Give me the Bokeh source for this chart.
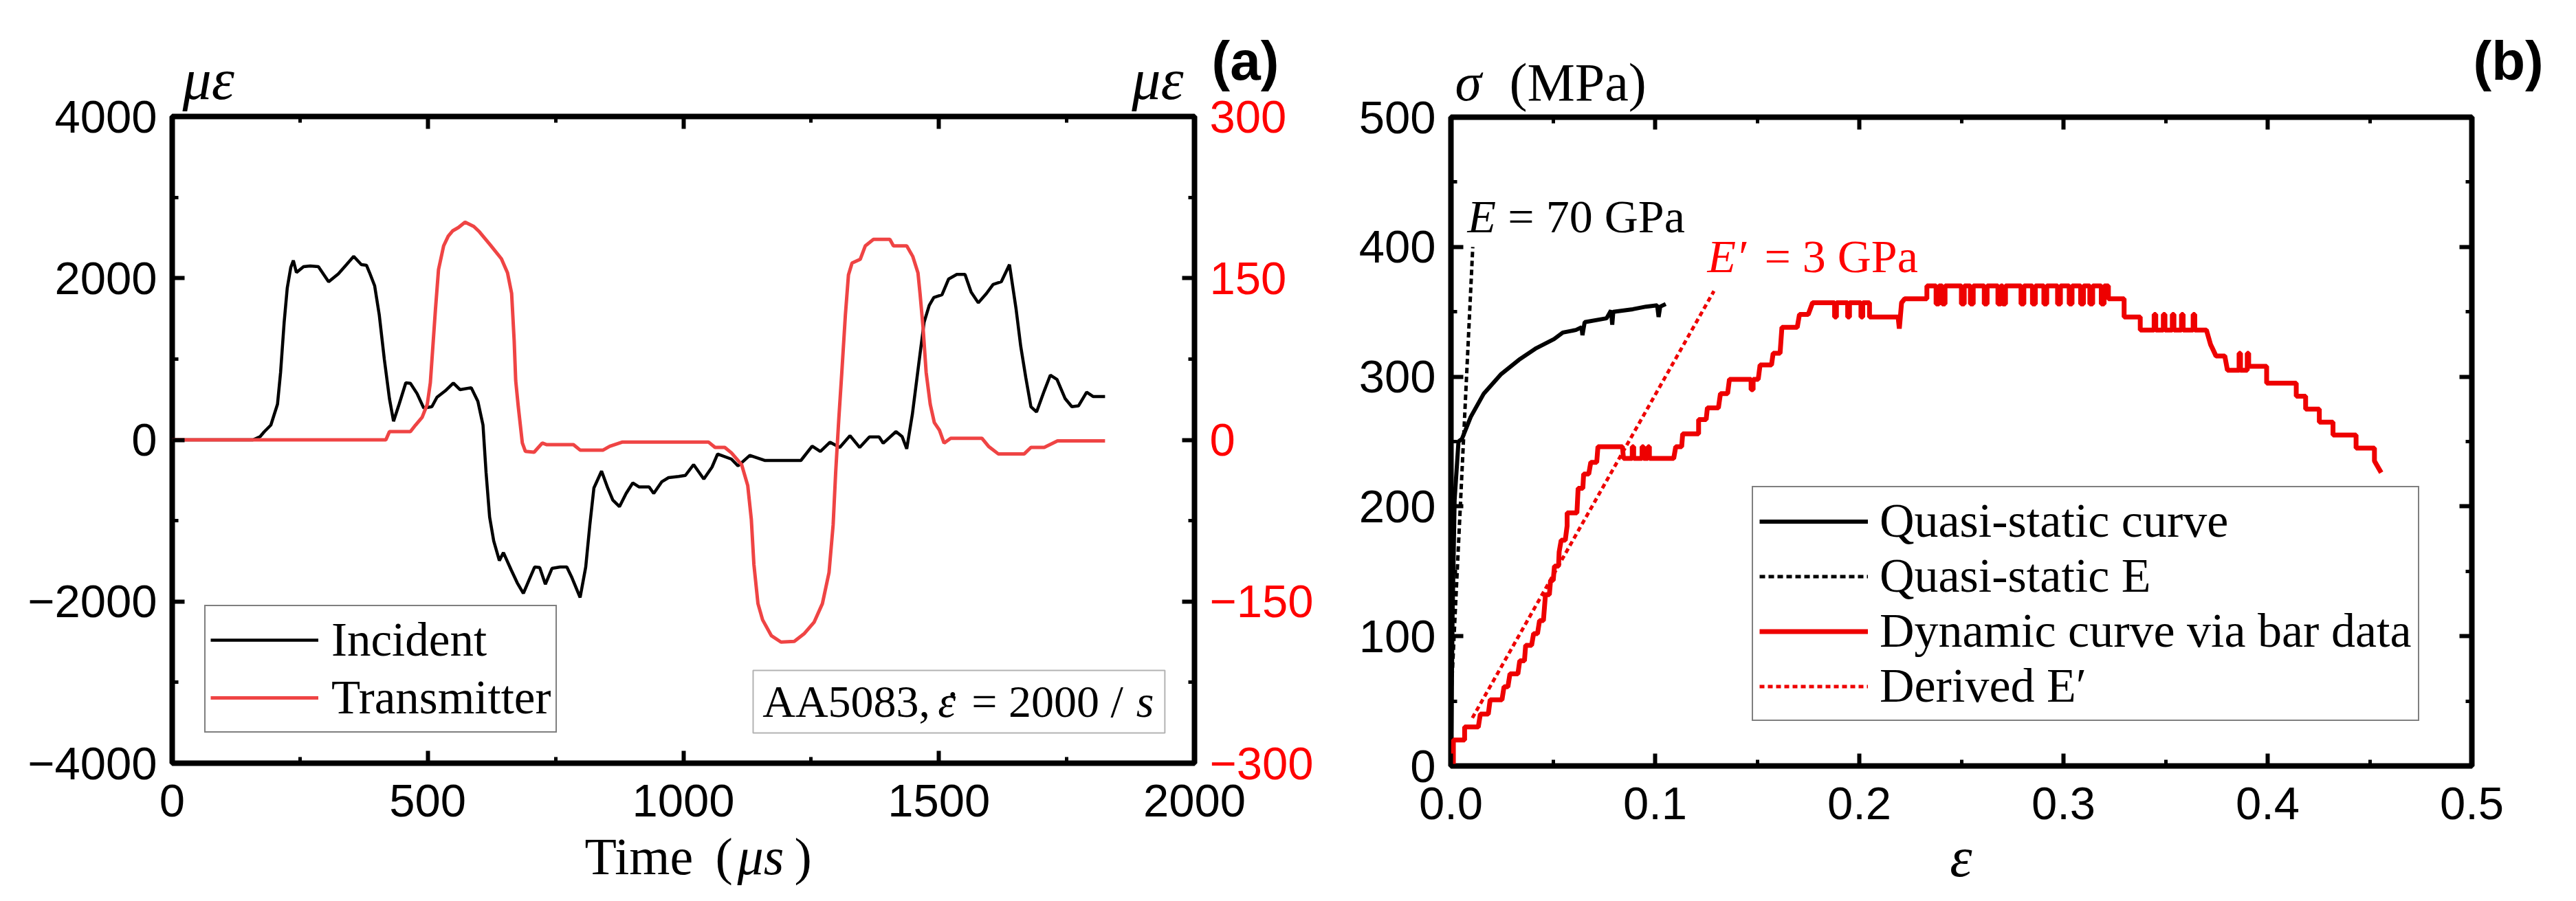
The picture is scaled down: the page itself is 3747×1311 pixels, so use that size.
from bokeh.plotting import figure
from bokeh.models import (Range1d, LinearAxis, FixedTicker, Label, Legend, LegendItem, GridBox,
                          BoxAnnotation, NumeralTickFormatter, CustomLabelingPolicy)
from bokeh.embed import file_html
from bokeh.resources import INLINE

# ---------------- Panel (a): bar strain signals ----------------
inc_t = [0, 158, 172, 180, 193, 206, 212, 219, 225, 232, 237, 243, 257, 270, 286, 306, 325, 341, 355,
         370, 380, 386, 396, 405, 415, 425, 433, 444, 457, 466, 479, 492, 508, 518, 534, 550, 563, 585,
         598, 608, 614, 621, 629, 640, 648, 663, 675, 687, 698, 709, 719, 730, 743, 759, 772, 782, 798,
         809, 817, 825, 840, 852, 862, 875, 888, 901, 913, 933, 942, 958, 971, 991, 1004, 1020, 1040,
         1056, 1067, 1094, 1107, 1130, 1159, 1230, 1252, 1268, 1287, 1306, 1326, 1345, 1364, 1383, 1391,
         1416, 1428, 1437, 1448, 1461, 1471, 1481, 1490, 1506, 1519, 1535, 1551, 1563, 1577, 1593, 1606,
         1622, 1638, 1651, 1660, 1670, 1680, 1691, 1706, 1718, 1731, 1747, 1760, 1773, 1789, 1802, 1825]
inc_v = [0, 0, 40, 100, 183, 442, 833, 1454, 1875, 2134, 2219, 2070, 2143, 2150, 2143, 1956, 2054, 2168, 2270,
         2168, 2160, 2070, 1907, 1549, 995, 510, 230, 442, 706, 700, 573, 394, 410, 527, 605, 703, 621, 645,
         476, 183, -403, -956, -1250, -1493, -1395, -1607, -1769, -1900, -1735, -1573, -1580, -1786, -1590,
         -1573, -1573, -1705, -1950, -1573, -1055, -595, -387, -595, -745, -826, -663, -533, -582, -582, -663,
         -517, -468, -452, -440, -306, -485, -338, -175, -238, -322, -192, -255, -255, -77, -143, -29, -94,
         52, -94, 36, 36, -42, 102, 40, -111, 315, 963, 1454, 1663, 1760, 1794, 1990, 2046, 2046, 1828, 1695,
         1811, 1923, 1956, 2168, 1616, 1159, 768, 410, 345, 605, 801, 747, 510, 410, 420, 589, 535, 535]

tr_t = [0, 418, 425, 466, 476, 489, 499, 505, 510, 515, 521, 531, 540, 549, 560, 573, 590, 601, 622, 644,
        656, 664, 669, 672, 677, 685, 691, 708, 724, 733, 785, 798, 843, 856, 881, 1049, 1062, 1081, 1094,
        1114, 1126, 1133, 1138, 1146, 1155, 1172, 1191, 1217, 1236, 1256, 1272, 1285, 1293, 1298, 1304,
        1310, 1317, 1323, 1330, 1346, 1356, 1372, 1404, 1411, 1437, 1449, 1459, 1463, 1469, 1475, 1483,
        1491, 1501, 1510, 1523, 1584, 1597, 1616, 1667, 1680, 1706, 1732, 1825]
tr_v = [0, 0, 7.6, 7.6, 13.7, 21, 33, 53, 87, 121, 158, 180, 189, 194, 197, 202, 198, 193, 181, 168,
        155, 136, 92, 55, 31, -3, -10.7, -11.5, -3, -4.5, -4.5, -9.5, -9.5, -6, -2, -2, -7, -7, -12,
        -23, -42.5, -74, -115.5, -152, -167, -181.6, -187.6, -187, -180, -169, -152, -123, -79, -30, 18.5,
        62.5, 116, 153, 164, 167.5, 180, 186, 186, 180, 180, 170, 155, 136, 104, 62.5, 33,
        16, 9, -3, 1.5, 1.5, -6, -13, -13, -7, -7, -1, -1]

a_xticks = [0, 500, 1000, 1500, 2000]
a_xminor = [250, 750, 1250, 1750]
a_yticks = [-4000, -2000, 0, 2000, 4000]
a_yminor = [-3000, -1000, 1000, 3000]
a_rticks = [-300, -150, 0, 150, 300]
a_rminor = [-225, -75, 75, 225]

# ---------------- Panel (b): stress-strain ----------------
qs_eps = [0.0, 0.0008, 0.0018, 0.0037, 0.0054, 0.0097, 0.0161, 0.0246, 0.0333, 0.0418, 0.0505, 0.0548,
          0.0612, 0.0640, 0.0644, 0.0655, 0.0762, 0.0784, 0.0790, 0.0795, 0.0891, 0.0956, 0.1010, 0.1017,
          0.1025, 0.1052]
qs_sig = [0, 116, 205, 250, 252, 269, 287, 302, 313, 322, 329, 334, 336, 338, 332, 342, 345, 351, 340,
          350, 352, 354, 355, 346, 354, 356]

qsE_eps = [-0.0015, 0.0107]
qsE_sig = [0, 400]

dE_eps = [0.0105, 0.1288]
dE_sig = [37, 366]

dyn_eps = [0.0012, 0.0012, 0.0067, 0.0067, 0.0134, 0.0144, 0.0183, 0.0192, 0.0250, 0.0260, 0.0279, 0.0289,
           0.0328, 0.0337, 0.0360, 0.0366, 0.0395, 0.0405, 0.0424, 0.0434, 0.0453, 0.0463, 0.0482, 0.0488,
           0.0501, 0.0507, 0.0527, 0.0530, 0.0540, 0.0560, 0.0569, 0.0569, 0.0617, 0.0623, 0.0646, 0.0650,
           0.0675, 0.0685, 0.0714, 0.0720, 0.0840, 0.0845, 0.0888, 0.0888, 0.0895, 0.0895, 0.0936, 0.0936,
           0.0943, 0.0943, 0.0965, 0.0965, 0.0972, 0.0972, 0.1091, 0.1101, 0.1130, 0.1135, 0.1213, 0.1213,
           0.1250, 0.1256, 0.1310, 0.1320, 0.1355, 0.1364, 0.1470, 0.1470, 0.1480, 0.1480, 0.1505, 0.1514,
           0.1570, 0.1578, 0.1612, 0.1621, 0.1696, 0.1707, 0.1750, 0.1771,
           0.1879, 0.1879, 0.1888, 0.1888, 0.1943, 0.1943, 0.1952, 0.1952, 0.2008, 0.2008, 0.2017, 0.2017,
           0.2050, 0.2050, 0.2190, 0.2196, 0.2201, 0.2207, 0.2222, 0.2331, 0.2331,
           0.2376, 0.2376, 0.2390, 0.2390, 0.2406, 0.2406, 0.2420, 0.2420, 0.2500, 0.2500, 0.2514, 0.2514,
           0.2544, 0.2544, 0.2558, 0.2558, 0.2612, 0.2612, 0.2626, 0.2626, 0.2679, 0.2679, 0.2693, 0.2693,
           0.2702, 0.2702, 0.2716, 0.2716, 0.2792, 0.2792, 0.2806, 0.2806, 0.2848, 0.2848, 0.2862, 0.2862,
           0.2904, 0.2904, 0.2918, 0.2918, 0.2971, 0.2971, 0.2985, 0.2985, 0.3028, 0.3028, 0.3042, 0.3042,
           0.3084, 0.3084, 0.3098, 0.3098, 0.3129, 0.3129, 0.3143, 0.3143, 0.3185, 0.3185, 0.3199, 0.3199,
           0.3220, 0.3220, 0.3297, 0.3297, 0.3376, 0.3376,
           0.3444, 0.3444, 0.3452, 0.3452, 0.3489, 0.3489, 0.3497, 0.3497, 0.3533, 0.3533, 0.3541, 0.3541,
           0.3578, 0.3578, 0.3586, 0.3586, 0.3635, 0.3635, 0.3643, 0.3643,
           0.3700, 0.3720, 0.3747, 0.3790, 0.3803, 0.3860, 0.3860, 0.3867, 0.3867, 0.3900, 0.3900, 0.3907,
           0.3907, 0.3995, 0.3995, 0.4140, 0.4140, 0.4186, 0.4186, 0.4253, 0.4253, 0.4320, 0.4320, 0.4433,
           0.4433, 0.4523, 0.4523, 0.4556]
dyn_sig = [0, 20, 20, 30, 30, 40, 40, 51, 51, 61, 61, 71,
           71, 81, 81, 93, 93, 102, 102, 112, 112, 132, 132, 143,
           143, 154, 154, 165, 174, 174, 185, 195, 195, 214, 214, 225,
           225, 234, 234, 246, 246, 237, 237, 246, 246, 237, 237, 246,
           246, 237, 237, 246, 246, 237, 237, 246, 246, 256, 256, 267,
           267, 276, 276, 287, 287, 298, 298, 290, 290, 298, 298, 309,
           309, 318, 318, 338, 338, 348, 348, 357,
           357, 346, 346, 357, 357, 346, 346, 357, 357, 346, 346, 357,
           357, 346, 346, 337, 346, 357, 360, 360, 370,
           370, 356, 356, 370, 370, 356, 356, 370, 370, 356, 356, 370,
           370, 356, 356, 370, 370, 356, 356, 370, 370, 356, 356, 370,
           370, 356, 356, 370, 370, 356, 356, 370, 370, 356, 356, 370,
           370, 356, 356, 370, 370, 356, 356, 370, 370, 356, 356, 370,
           370, 356, 356, 370, 370, 356, 356, 370, 370, 356, 356, 370,
           370, 360, 360, 346, 346, 336,
           336, 348, 348, 336, 336, 348, 348, 336, 336, 348, 348, 336,
           336, 348, 348, 336, 336, 348, 348, 336,
           336, 325, 316, 316, 305, 305, 318, 318, 305, 305, 318, 318,
           308, 308, 295, 295, 285, 285, 275, 275, 265, 265, 255, 255,
           245, 245, 235, 226]

b_xticks = [0, 0.1, 0.2, 0.3, 0.4, 0.5]
b_xminor = [0.05, 0.15, 0.25, 0.35, 0.45]
b_yticks = [0, 100, 200, 300, 400, 500]
b_yminor = [50, 150, 250, 350, 450]

SANS = "Liberation Sans"
SERIF = "Liberation Serif"
RED_A = "#EF4444"
RED_B = "#EE0000"

WA, WB, H = 1922, 1800, 1295


def style_axis(ax, ticks, minor, show_labels=True, color="black", overrides=None, standoff=22):
    ax.ticker = FixedTicker(ticks=ticks, minor_ticks=minor)
    ax.axis_line_color = None
    ax.major_tick_in = 18
    ax.major_tick_out = 0
    ax.minor_tick_in = 9
    ax.minor_tick_out = 0
    ax.major_tick_line_width = 6
    ax.minor_tick_line_width = 5
    ax.major_tick_line_color = "black"
    ax.minor_tick_line_color = "black"
    ax.major_label_text_font = SANS
    ax.major_label_text_color = color
    if show_labels:
        ax.major_label_text_font_size = "67px"
        ax.major_label_standoff = standoff
    else:
        ax.major_label_text_font_size = "1px"
        ax.major_label_standoff = 0
        ax.major_label_policy = CustomLabelingPolicy(
            code="try { return new indices.constructor(indices.size, 0) } catch (e) { return indices }")
    if overrides:
        ax.major_label_overrides = overrides


def lab(p, x, y, text, size, color="black", style="normal", font=SERIF, align="left", rng="default"):
    p.add_layout(Label(x=x, y=y, text=text, text_font=font, text_font_size=size, text_color=color,
                       text_font_style=style, text_align=align, text_baseline="alphabetic",
                       y_range_name=rng))


# ---------------- Figure (a) ----------------
pa = figure(width=WA, height=H, x_range=Range1d(0, 2000), y_range=Range1d(-4000, 4000),
            output_backend="svg", toolbar_location=None, x_axis_location=None, y_axis_location=None,
            min_border_left=250, min_border_right=185, min_border_top=169, min_border_bottom=185)
pa.frame_align = False
pa.extra_y_ranges = {"t": Range1d(-300, 300)}
pa.grid.visible = False
pa.outline_line_color = "black"
pa.outline_line_width = 8
pa.background_fill_color = "white"
pa.border_fill_color = "white"

ax = LinearAxis(); style_axis(ax, a_xticks, a_xminor, standoff=31); pa.add_layout(ax, "below")
ax = LinearAxis(); style_axis(ax, a_xticks, a_xminor, show_labels=False); pa.add_layout(ax, "above")
ax = LinearAxis(); style_axis(ax, a_yticks, a_yminor, overrides={-2000: "\u22122000", -4000: "\u22124000"})
pa.add_layout(ax, "left")
ax = LinearAxis(y_range_name="t")
style_axis(ax, a_rticks, a_rminor, color="#FF0000", overrides={-150: "\u2212150", -300: "\u2212300"})
pa.add_layout(ax, "right")

r_inc = pa.line(inc_t, inc_v, line_color="black", line_width=4.5)
r_tr = pa.line(tr_t, tr_v, line_color=RED_A, line_width=5, y_range_name="t")

leg_a = Legend(items=[LegendItem(label="Incident", renderers=[r_inc]),
                      LegendItem(label="Transmitter", renderers=[r_tr])],
               location=(47, 44), label_text_font=SERIF, label_text_font_size="69px",
               label_text_color="black",
               glyph_width=157, glyph_height=84, label_standoff=19, padding=7, spacing=0,
               border_line_color="black", border_line_width=2, background_fill_color="white",
               background_fill_alpha=1, margin=0)
pa.add_layout(leg_a)

pa.add_layout(BoxAnnotation(left=1136.5, right=1942, top=-2852, bottom=-3626, fill_color="white",
                            fill_alpha=1, line_color="black", line_width=2))
lab(pa, 1155, -3238, "AA5083,", "66px")
lab(pa, 1498, -3238, "\u03b5", "66px", style="italic")
lab(pa, 1527, -3306, "\u02d9", "66px", align="center")
lab(pa, 1564, -3238, "= 2000 /", "66px")
lab(pa, 1886, -3238, "s", "66px", style="italic")

# ---------------- Figure (b) ----------------
pb = figure(width=WB, height=H, x_range=Range1d(0, 0.5), y_range=Range1d(0, 500),
            output_backend="svg", toolbar_location=None, x_axis_location=None, y_axis_location=None,
            min_border_left=188, min_border_right=127, min_border_top=170, min_border_bottom=181)
pb.frame_align = False
pb.grid.visible = False
pb.outline_line_color = "black"
pb.outline_line_width = 8
pb.background_fill_color = "white"
pb.border_fill_color = "white"

ax = LinearAxis(); style_axis(ax, b_xticks, b_xminor, standoff=31)
ax.formatter = NumeralTickFormatter(format="0.0")
pb.add_layout(ax, "below")
ax = LinearAxis(); style_axis(ax, b_xticks, b_xminor, show_labels=False); pb.add_layout(ax, "above")
ax = LinearAxis(); style_axis(ax, b_yticks, b_yminor); pb.add_layout(ax, "left")
ax = LinearAxis(); style_axis(ax, b_yticks, b_yminor, show_labels=False); pb.add_layout(ax, "right")

r_qs = pb.line(qs_eps, qs_sig, line_color="black", line_width=6)
r_qsE = pb.line(qsE_eps, qsE_sig, line_color="black", line_width=5, line_dash="8 5")
r_dyn = pb.line(dyn_eps, dyn_sig, line_color=RED_B, line_width=7)
r_dE = pb.line(dE_eps, dE_sig, line_color=RED_B, line_width=5, line_dash="7 5")

leg_b = Legend(items=[LegendItem(label="Quasi-static curve", renderers=[r_qs]),
                      LegendItem(label="Quasi-static E", renderers=[r_qsE]),
                      LegendItem(label="Dynamic curve via bar data", renderers=[r_dyn]),
                      LegendItem(label="Derived E\u2032", renderers=[r_dE])],
               location=(438, 65), label_text_font=SERIF, label_text_font_size="70px",
               label_text_color="black",
               glyph_width=158, glyph_height=79, label_standoff=17, padding=9, spacing=0,
               border_line_color="black", border_line_width=2, background_fill_color="white",
               background_fill_alpha=1, margin=0)
pb.add_layout(leg_b)

lab(pb, 0.0081, 423.6, "E", "68px", style="italic")
lab(pb, 0.0279, 423.6, "= 70 GPa", "68px")
lab(pb, 0.1256, 392.5, "E\u2032", "68px", color="#FF0000", style="italic")
lab(pb, 0.1535, 392.5, "= 3 GPa", "68px", color="#FF0000")

# ---------------- transparent text overlay (axis titles, panel tags) ----------------
WT = WA + WB
ov = figure(width=WT, height=H, x_range=Range1d(0, WT), y_range=Range1d(0, H), output_backend="svg",
            toolbar_location=None, x_axis_location=None, y_axis_location=None,
            min_border=0, min_border_left=0, min_border_right=0, min_border_top=0, min_border_bottom=0)
ov.frame_align = False
ov.outline_line_color = None
ov.grid.visible = False
ov.background_fill_alpha = 0
ov.border_fill_alpha = 0


def tlab(xp, basep, text, size, **kw):
    # xp / basep: anchor x and text baseline, in page pixels from the top-left corner
    px = int(size.replace("px", ""))
    lab(ov, xp - 8, H - (basep - 8) + 0.18 * px, text, size, **kw)


tlab(273, 138, "\u03bc\u03b5", "84px", style="italic")
tlab(1729, 138, "\u03bc\u03b5", "84px", style="italic", align="right")
tlab(1770, 110, "(a)", "80px", font=SANS, style="bold")
tlab(858, 1267, "Time", "76px")
tlab(1048, 1267, "(", "76px")
tlab(1080, 1267, "\u03bcs", "76px", style="italic")
tlab(1163, 1267, ")", "76px")

tlab(2124, 141, "\u03c3", "78px", style="italic")
tlab(2203, 141, "(MPa)", "78px")
tlab(3605, 110, "(b)", "80px", font=SANS, style="bold")
tlab(2860, 1270, "\u03b5", "82px", style="italic", align="center")

layout = GridBox(children=[(pa, 0, 0), (pb, 0, 1), (ov, 0, 0, 1, 2)])
open("out.html", "w").write(file_html(layout, INLINE))
